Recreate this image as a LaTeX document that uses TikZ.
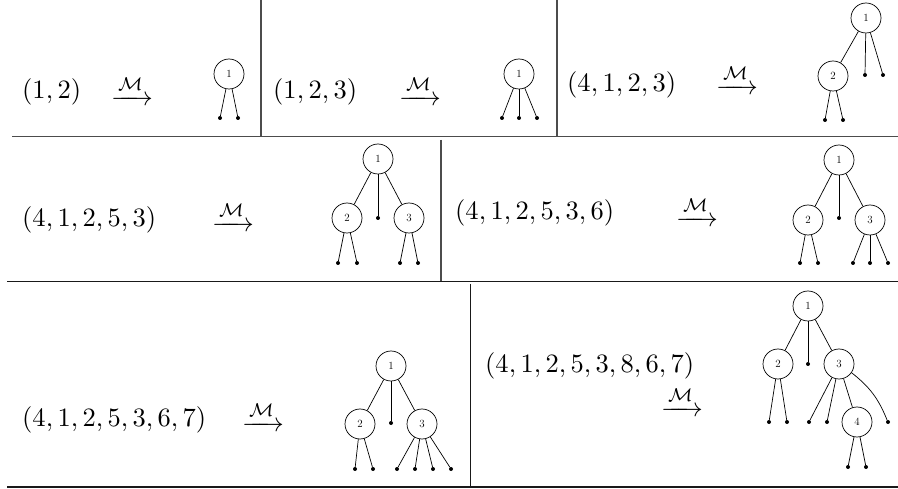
\documentclass[tikz,border=0pt]{standalone}
\usepackage{amsmath}
\usepackage{graphicx}
\newcommand{\seqt}[1]{\scalebox{2.65}{$#1$}}
\tikzset{
  vtx/.style={circle, draw, minimum size=30pt, inner sep=0pt, line width=0.7pt, font=\fontsize{11}{12}\selectfont},
  lf/.style={circle, fill, inner sep=0pt, minimum size=4pt},
  edg/.style={line width=0.7pt},
  txt/.style={anchor=base west, inner sep=0pt},
  rulegray/.style={line width=1.3pt, draw=black!70},
  ruleblack/.style={line width=1.3pt, draw=black!90},
}
\begin{document}
\begin{tikzpicture}[x=1pt,y=-1pt]
\useasboundingbox (0,0) rectangle (898,489);
% table rules
\coordinate (h1a) at (12,136.5); \coordinate (h1b) at (898,136.5);
\coordinate (v1a) at (261,0); \coordinate (v1b) at (261,136.5);
\coordinate (v2a) at (557,0); \coordinate (v2b) at (557,136.5);
\coordinate (v3a) at (441,140); \coordinate (v3b) at (441,281);
\coordinate (h2a) at (7,281.5); \coordinate (h2b) at (898,281.5);
\coordinate (v4a) at (470.5,284); \coordinate (v4b) at (470.5,487);
\coordinate (h3a) at (7,487); \coordinate (h3b) at (898,487);
\draw[rulegray] (h1a) -- (h1b);
\draw[rulegray] (v1a) -- (v1b);
\draw[rulegray] (v2a) -- (v2b);
\draw[rulegray] (v3a) -- (v3b);
\draw[ruleblack] (h2a) -- (h2b);
\draw[ruleblack] (v4a) -- (v4b);
\draw[ruleblack] (h3a) -- (h3b);

% ---------- Row 1, cell 1
\node[txt] (s11) at (22,99) {\seqt{(1,2)}};
\node[txt] (m11) at (111,105.6) {\seqt{\xrightarrow{\mathcal{M}}}};
\node[vtx] (a1) at (229,74) {1};
\node[lf] (a1l1) at (220,118) {};
\node[lf] (a1l2) at (238,118) {};
\draw[edg] (a1) -- (a1l1); \draw[edg] (a1) -- (a1l2);

% ---------- Row 1, cell 2
\node[txt] (s12) at (273,99) {\seqt{(1,2,3)}};
\node[txt] (m12) at (399,105.6) {\seqt{\xrightarrow{\mathcal{M}}}};
\node[vtx] (b1) at (519,74) {1};
\node[lf] (b1l1) at (502,118) {};
\node[lf] (b1l2) at (519,118) {};
\node[lf] (b1l3) at (537,118) {};
\draw[edg] (b1) -- (b1l1); \draw[edg] (b1) -- (b1l2); \draw[edg] (b1) -- (b1l3);

% ---------- Row 1, cell 3
\node[txt] (s13) at (567,92) {\seqt{(4,1,2,3)}};
\node[txt] (m13) at (716,94.6) {\seqt{\xrightarrow{\mathcal{M}}}};
\node[vtx] (c1) at (866,18) {1};
\node[vtx] (c2) at (833,76) {2};
\node[lf] (c1l1) at (865,75) {};
\node[lf] (c1l2) at (883,75) {};
\node[lf] (c2l1) at (825,120) {};
\node[lf] (c2l2) at (843,120) {};
\draw[edg] (c1) -- (c2); \draw[edg] (c1) -- (c1l1); \draw[edg] (c1) -- (c1l2);
\draw[edg] (c2) -- (c2l1); \draw[edg] (c2) -- (c2l2);

% ---------- Row 2, cell 1
\node[txt] (s21) at (22,227) {\seqt{(4,1,2,5,3)}};
\node[txt] (m21) at (212,231.6) {\seqt{\xrightarrow{\mathcal{M}}}};
\node[vtx] (d1) at (378,159) {1};
\node[vtx] (d2) at (347,218) {2};
\node[lf] (dm) at (378,218) {};
\node[vtx] (d3) at (409,218) {3};
\node[lf] (d2l1) at (338,263) {};
\node[lf] (d2l2) at (357,263) {};
\node[lf] (d3l1) at (400,263) {};
\node[lf] (d3l2) at (418,263) {};
\draw[edg] (d1) -- (d2); \draw[edg] (d1) -- (dm); \draw[edg] (d1) -- (d3);
\draw[edg] (d2) -- (d2l1); \draw[edg] (d2) -- (d2l2);
\draw[edg] (d3) -- (d3l1); \draw[edg] (d3) -- (d3l2);

% ---------- Row 2, cell 2
\node[txt] (s22) at (455,220) {\seqt{(4,1,2,5,3,6)}};
\node[txt] (m22) at (676,226.6) {\seqt{\xrightarrow{\mathcal{M}}}};
\node[vtx] (e1) at (839,160) {1};
\node[vtx] (e2) at (808,220) {2};
\node[lf] (em) at (839,218) {};
\node[vtx] (e3) at (870,220) {3};
\node[lf] (e2l1) at (800,263) {};
\node[lf] (e2l2) at (818,263) {};
\node[lf] (e3l1) at (853,263) {};
\node[lf] (e3l2) at (870,263) {};
\node[lf] (e3l3) at (888,263) {};
\draw[edg] (e1) -- (e2); \draw[edg] (e1) -- (em); \draw[edg] (e1) -- (e3);
\draw[edg] (e2) -- (e2l1); \draw[edg] (e2) -- (e2l2);
\draw[edg] (e3) -- (e3l1); \draw[edg] (e3) -- (e3l2); \draw[edg] (e3) -- (e3l3);

% ---------- Row 3, cell 1
\node[txt] (s31) at (22,426) {\seqt{(4,1,2,5,3,6,7)}};
\node[txt] (m31) at (242,431.6) {\seqt{\xrightarrow{\mathcal{M}}}};
\node[vtx] (f1) at (391,366) {1};
\node[vtx] (f2) at (360,424) {2};
\node[lf] (fm) at (391,423) {};
\node[vtx] (f3) at (422,424) {3};
\node[lf] (f2l1) at (355,469) {};
\node[lf] (f2l2) at (373,469) {};
\node[lf] (f3l1) at (397,469) {};
\node[lf] (f3l2) at (415,469) {};
\node[lf] (f3l3) at (433,469) {};
\node[lf] (f3l4) at (451,469) {};
\draw[edg] (f1) -- (f2); \draw[edg] (f1) -- (fm); \draw[edg] (f1) -- (f3);
\draw[edg] (f2) -- (f2l1); \draw[edg] (f2) -- (f2l2);
\draw[edg] (f3) -- (f3l1); \draw[edg] (f3) -- (f3l2); \draw[edg] (f3) -- (f3l3); \draw[edg] (f3) -- (f3l4);

% ---------- Row 3, cell 2
\node[txt] (s32) at (485,373) {\seqt{(4,1,2,5,3,8,6,7)}};
\node[txt] (m32) at (661,416.6) {\seqt{\xrightarrow{\mathcal{M}}}};
\node[vtx] (g1) at (808,306) {1};
\node[vtx] (g2) at (778,364) {2};
\node[lf] (gm) at (808,364) {};
\node[vtx] (g3) at (839,364) {3};
\node[lf] (g2l1) at (769,422) {};
\node[lf] (g2l2) at (787,422) {};
\node[lf] (g3l1) at (809,422) {};
\node[lf] (g3l2) at (827,422) {};
\node[vtx] (g4) at (857,422) {4};
\node[lf] (g3l4) at (888,422) {};
\node[lf] (g4l1) at (848,467) {};
\node[lf] (g4l2) at (866,467) {};
\draw[edg] (g1) -- (g2); \draw[edg] (g1) -- (gm); \draw[edg] (g1) -- (g3);
\draw[edg] (g2) -- (g2l1); \draw[edg] (g2) -- (g2l2);
\draw[edg] (g3) -- (g3l1); \draw[edg] (g3) -- (g3l2); \draw[edg] (g3) -- (g4);
\draw[edg] (g3) to[bend left=15] (g3l4);
\draw[edg] (g4) -- (g4l1); \draw[edg] (g4) -- (g4l2);
\end{tikzpicture}
\end{document}
